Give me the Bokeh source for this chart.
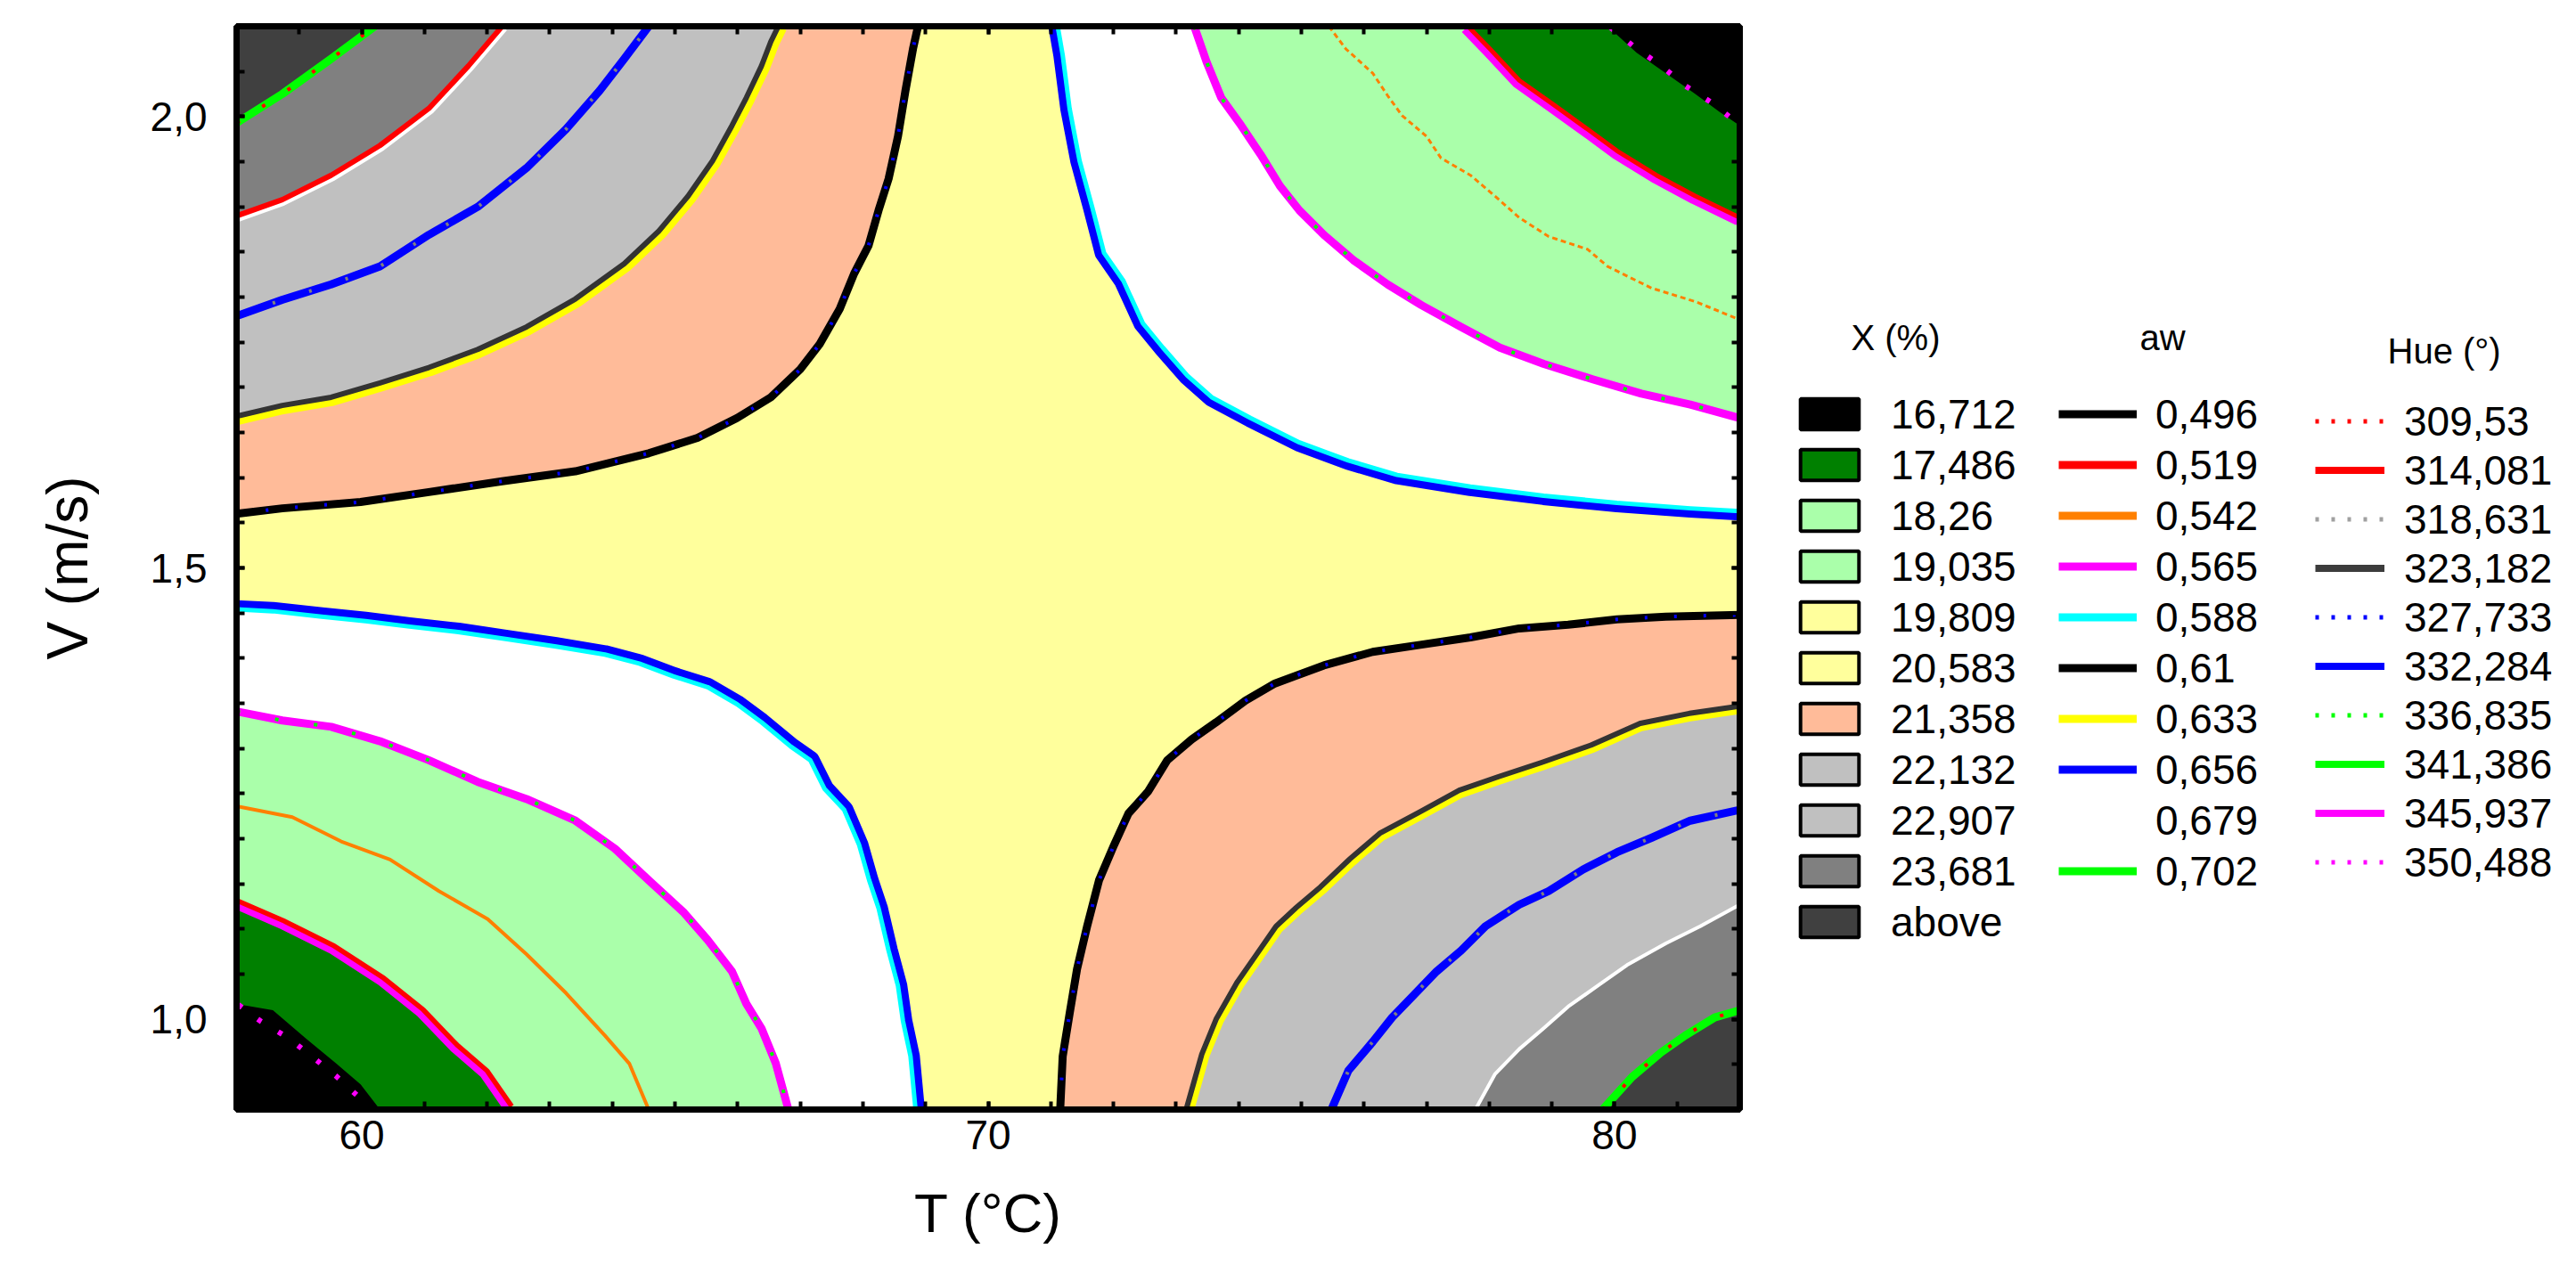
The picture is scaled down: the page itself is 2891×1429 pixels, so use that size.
from bokeh.plotting import figure
from bokeh.layouts import row
from bokeh.models import (Range1d, FixedTicker, LinearAxis, Legend, LegendItem, Label,
                          CustomJSTickFormatter)
from bokeh.embed import file_html
from bokeh.resources import INLINE

NAN = float("nan")

# ---------------- axes ----------------
T_MIN, T_MAX = 58.0, 82.0
V_MIN, V_MAX = 0.9, 2.1
T_TICKS = [60, 70, 80]
T_MINOR = [58, 59, 60, 61, 62, 63, 64, 65, 66, 67, 68, 69, 70, 71, 72, 73, 74, 75, 76, 77, 78, 79, 80, 81, 82]
V_TICKS = [1.0, 1.5, 2.0]
V_MINOR = [0.9, 0.95, 1.0, 1.05, 1.1, 1.15, 1.2, 1.25, 1.3, 1.35, 1.4, 1.45, 1.5,
           1.55, 1.6, 1.65, 1.7, 1.75, 1.8, 1.85, 1.9, 1.95, 2.0, 2.05, 2.1]
V_TICK_LABELS = {1.0: "1,0", 1.5: "1,5", 2.0: "2,0"}

# ---------------- legend contents ----------------
X_LEVELS = ["16,712", "17,486", "18,26", "19,035", "19,809", "20,583",
            "21,358", "22,132", "22,907", "23,681", "above"]
X_COLORS = ["#000000", "#008000", "#AAFFAA", "#AAFFAA", "#FFFF9C", "#FFFF9C",
            "#FFBB99", "#C0C0C0", "#C0C0C0", "#808080", "#404040"]
AW_LEVELS = ["0,496", "0,519", "0,542", "0,565", "0,588", "0,61", "0,633", "0,656", "0,679", "0,702"]
AW_COLORS = ["#000000", "#FF0000", "#FF8000", "#FF00FF", "#00FFFF", "#000000",
             "#FFFF00", "#0000FF", "#FFFFFF", "#00FF00"]
HUE_LEVELS = ["309,53", "314,081", "318,631", "323,182", "327,733", "332,284",
              "336,835", "341,386", "345,937", "350,488"]
HUE_COLORS = ["#FF0000", "#FF0000", "#A0A0A0", "#3C3C3C", "#0000FF", "#0000FF",
              "#00FF00", "#00FF00", "#FF00FF", "#FF00FF"]
HUE_DOTTED = [True, False, True, False, True, False, True, False, False, True]

# ---------------- contour boundaries ----------------
# top-left quadrant (left edge -> top edge)
TL_B1_T = [58.0, 58.73, 59.98, 61.07, 62.24, 63.41, 64.58, 65.36, 65.99, 66.53, 67.00,
           67.31, 67.63, 67.86, 68.09, 68.25, 68.41, 68.56, 68.68, 68.80, 68.88]
TL_B1_V = [1.560, 1.566, 1.573, 1.584, 1.596, 1.607, 1.627, 1.644, 1.666, 1.689, 1.720,
           1.748, 1.787, 1.826, 1.857, 1.896, 1.931, 1.978, 2.029, 2.075, 2.1]
TL_B2_T = [58.0, 58.73, 59.51, 60.29, 61.07, 61.85, 62.63, 63.41, 64.19, 64.74, 65.21,
           65.60, 65.91, 66.14, 66.38, 66.53, 66.65]
TL_B2_V = [1.668, 1.680, 1.689, 1.705, 1.722, 1.742, 1.767, 1.798, 1.837, 1.873, 1.912,
           1.951, 1.990, 2.021, 2.056, 2.083, 2.1]
TL_B3_T = [58.0, 58.73, 59.51, 60.29, 61.07, 61.85, 62.63, 63.26, 63.80, 64.19, 64.58]
TL_B3_V = [1.779, 1.797, 1.814, 1.834, 1.869, 1.900, 1.943, 1.986, 2.029, 2.064, 2.1]
TL_B4_T = [58.0, 58.73, 59.51, 60.29, 61.07, 61.70, 62.24]
TL_B4_V = [1.890, 1.908, 1.935, 1.968, 2.009, 2.056, 2.1]
TL_B5_T = [58.0, 58.73, 59.51, 60.21]
TL_B5_V = [1.993, 2.025, 2.064, 2.1]

# top-right quadrant (top edge -> right edge)
TR_C1_T = [71.11, 71.19, 71.30, 71.46, 71.66, 71.85, 72.16, 72.47, 72.79, 73.18, 73.57,
           74.19, 74.97, 75.75, 76.53, 77.70, 78.87, 80.04, 81.21, 82.0]
TR_C1_V = [2.1, 2.068, 2.009, 1.951, 1.900, 1.849, 1.818, 1.771, 1.744, 1.713, 1.689,
           1.666, 1.639, 1.619, 1.603, 1.590, 1.580, 1.572, 1.566, 1.563]
TR_C2_T = [73.29, 73.49, 73.72, 74.04, 74.35, 74.66, 74.97, 75.36, 75.83, 76.38, 76.92,
           77.55, 78.17, 78.87, 79.65, 80.43, 81.21, 82.0]
TR_C2_V = [2.1, 2.060, 2.021, 1.990, 1.958, 1.923, 1.896, 1.869, 1.841, 1.814, 1.791,
           1.767, 1.744, 1.726, 1.709, 1.693, 1.681, 1.666]
TR_C3_T = [75.44, 75.71, 76.14, 76.38, 76.61, 77.00, 77.23, 77.70, 78.09, 78.48, 78.95,
           79.57, 79.89, 80.59, 81.29, 82.0]
TR_C3_V = [2.1, 2.075, 2.048, 2.023, 2.001, 1.978, 1.954, 1.935, 1.912, 1.888, 1.867,
           1.853, 1.834, 1.810, 1.795, 1.775]
TR_C4_T = [77.66, 78.01, 78.48, 79.03, 79.57, 80.04, 80.67, 81.29, 82.0]
TR_C4_V = [2.1, 2.075, 2.040, 2.013, 1.986, 1.962, 1.935, 1.912, 1.888]
TR_C5_T = [79.89, 80.35, 80.82, 81.29, 81.68, 82.0]
TR_C5_V = [2.1, 2.071, 2.048, 2.025, 2.005, 1.990]
TR_H350_T = [79.93, 80.32, 80.75, 81.13, 81.56, 81.92]
TR_H350_V = [2.099, 2.077, 2.056, 2.034, 2.015, 1.995]

# bottom-left quadrant (left edge -> bottom edge)
BL_D1_T = [58.0, 58.58, 59.36, 60.06, 60.76, 61.54, 62.32, 63.10, 63.88, 64.43, 64.97,
           65.52, 65.99, 66.38, 66.85, 67.16, 67.39, 67.70, 67.94, 68.10, 68.25, 68.41,
           68.56, 68.64, 68.76, 68.84]
BL_D1_V = [1.454, 1.452, 1.446, 1.441, 1.435, 1.429, 1.421, 1.413, 1.404, 1.394, 1.380,
           1.368, 1.349, 1.329, 1.302, 1.287, 1.255, 1.232, 1.193, 1.154, 1.123, 1.076,
           1.037, 0.998, 0.959, 0.9]
BL_D2_T = [58.0, 58.73, 59.51, 60.29, 61.07, 61.85, 62.63, 63.41, 64.04, 64.58, 65.13,
           65.52, 65.91, 66.14, 66.38, 66.61, 66.81]
BL_D2_V = [1.341, 1.331, 1.324, 1.308, 1.287, 1.263, 1.244, 1.220, 1.189, 1.154, 1.119,
           1.088, 1.053, 1.017, 0.990, 0.951, 0.9]
BL_D3_T = [58.0, 58.89, 59.67, 60.45, 61.23, 62.01, 62.63, 63.26, 63.88, 64.27, 64.58]
BL_D3_V = [1.236, 1.224, 1.197, 1.177, 1.142, 1.111, 1.072, 1.029, 0.982, 0.951, 0.9]
BL_D4_T = [58.0, 58.73, 59.51, 60.29, 60.92, 61.46, 61.93, 62.32]
BL_D4_V = [1.125, 1.103, 1.076, 1.041, 1.006, 0.967, 0.939, 0.9]
BL_D5_T = [58.0, 58.58, 59.12, 59.59, 59.98, 60.29]
BL_D5_V = [1.017, 1.010, 0.978, 0.951, 0.928, 0.9]
BL_H350_T = [58.03, 58.38, 58.81, 59.20, 59.59, 59.98]
BL_H350_V = [1.016, 0.998, 0.980, 0.959, 0.937, 0.912]

# bottom-right quadrant (bottom edge -> right edge)
BR_E1_T = [71.15, 71.19, 71.30, 71.42, 71.58, 71.77, 72.01, 72.24, 72.55, 72.86, 73.25,
           73.64, 74.11, 74.58, 75.36, 76.14, 76.92, 77.70, 78.48, 79.26, 80.04, 80.82, 82.0]
BR_E1_V = [0.9, 0.959, 1.006, 1.056, 1.103, 1.154, 1.193, 1.228, 1.252, 1.287, 1.310,
           1.329, 1.353, 1.372, 1.392, 1.407, 1.415, 1.423, 1.433, 1.437, 1.443, 1.446, 1.448]
BR_E2_T = [73.25, 73.49, 73.72, 74.04, 74.35, 74.66, 74.97, 75.36, 75.83, 76.30, 76.92,
           77.55, 78.17, 78.87, 79.65, 80.43, 81.21, 82.0]
BR_E2_V = [0.9, 0.959, 0.998, 1.037, 1.068, 1.099, 1.119, 1.142, 1.173, 1.201, 1.224,
           1.248, 1.263, 1.279, 1.298, 1.322, 1.333, 1.341]
BR_E3_T = [75.48, 75.75, 76.14, 76.45, 76.77, 77.16, 77.55, 77.94, 78.48, 78.95, 79.50,
           80.04, 80.59, 81.21, 82.0]
BR_E3_V = [0.9, 0.943, 0.975, 1.002, 1.025, 1.053, 1.076, 1.103, 1.127, 1.142, 1.166,
           1.185, 1.201, 1.220, 1.232]
BR_E4_T = [77.78, 78.09, 78.48, 78.87, 79.26, 79.73, 80.20, 80.82, 81.37, 82.0]
BR_E4_V = [0.9, 0.939, 0.967, 0.990, 1.014, 1.037, 1.060, 1.084, 1.103, 1.127]
BR_E5_T = [79.81, 80.28, 80.74, 81.13, 81.60, 82.0]
BR_E5_V = [0.9, 0.936, 0.963, 0.982, 1.002, 1.010]

# ---------------- colours / fonts ----------------
YELLOW = "#FFFF9C"
SALMON = "#FFBB99"
LGREY = "#C0C0C0"
GREY = "#808080"
DGREY = "#404040"
LGREEN = "#AAFFAA"
DGREEN = "#008000"
BLACK = "#000000"
WHITE = "#FFFFFF"
FONT = "Liberation Sans"

p = figure(width=1972, height=1413, output_backend="svg", toolbar_location=None,
           x_range=Range1d(T_MIN, T_MAX), y_range=Range1d(V_MIN, V_MAX),
           min_border_left=265, min_border_right=20, min_border_top=29, min_border_bottom=168,
           x_axis_location=None, y_axis_location=None)
p.background_fill_color = YELLOW
p.grid.visible = False
p.outline_line_color = BLACK
p.outline_line_width = 7


def region(ts, vs, ct, cv, fill, line=None, lw=0):
    return p.patch(ts + [ct], vs + [cv], fill_color=fill,
                   line_color=line, line_width=lw, line_join="round")


def curve(ts, vs, color, lw, dash="solid"):
    return p.line(ts, vs, line_color=color, line_width=lw, line_dash=dash, line_join="round")


# ---- top-left ----
region(TL_B1_T, TL_B1_V, T_MIN, V_MAX, SALMON)
curve(TL_B2_T, TL_B2_V, "#FFFF00", 20)
region(TL_B2_T, TL_B2_V, T_MIN, V_MAX, LGREY, "#333333", 6)
curve(TL_B4_T, TL_B4_V, WHITE, 14)
region(TL_B4_T, TL_B4_V, T_MIN, V_MAX, GREY, "#FF0000", 6)
region(TL_B5_T, TL_B5_V, T_MIN, V_MAX, DGREY)
curve(TL_B1_T, TL_B1_V, BLACK, 9)
curve(TL_B1_T, TL_B1_V, "#0000FF", 4, "3 30")
curve(TL_B3_T, TL_B3_V, "#0000FF", 9)
curve(TL_B3_T, TL_B3_V, "#808080", 4, "3 40")
curve(TL_B5_T, TL_B5_V, "#00FF00", 9)
curve(TL_B5_T, TL_B5_V, "#FF0000", 4, "4 30")

# ---- top-right ----
curve(TR_C1_T, TR_C1_V, "#0000FF", 21)
region(TR_C1_T, TR_C1_V, T_MAX, V_MAX, WHITE, "#00FFFF", 5)
region(TR_C2_T, TR_C2_V, T_MAX, V_MAX, LGREEN)
curve(TR_C4_T, TR_C4_V, "#FF00FF", 19)
region(TR_C4_T, TR_C4_V, T_MAX, V_MAX, DGREEN, "#FF0000", 5)
region(TR_C5_T, TR_C5_V, T_MAX, V_MAX, BLACK)
curve(TR_C2_T, TR_C2_V, "#FF00FF", 9)
curve(TR_C2_T, TR_C2_V, "#00FF00", 4, "4 40")
curve(TR_C3_T, TR_C3_V, "#FF8000", 3, "6 4")
curve(TR_H350_T, TR_H350_V, "#FF00FF", 6, "5 22")

# ---- bottom-left ----
curve(BL_D1_T, BL_D1_V, "#0000FF", 21)
region(BL_D1_T, BL_D1_V, T_MIN, V_MIN, WHITE, "#00FFFF", 5)
region(BL_D2_T, BL_D2_V, T_MIN, V_MIN, LGREEN)
curve(BL_D4_T, BL_D4_V, "#FF0000", 18)
region(BL_D4_T, BL_D4_V, T_MIN, V_MIN, DGREEN, "#FF00FF", 7)
region(BL_D5_T, BL_D5_V, T_MIN, V_MIN, BLACK)
curve(BL_D2_T, BL_D2_V, "#FF00FF", 9)
curve(BL_D2_T, BL_D2_V, "#00FF00", 4, "4 40")
curve(BL_D3_T, BL_D3_V, "#FF8000", 4)
curve(BL_H350_T, BL_H350_V, "#FF00FF", 6, "5 22")

# ---- bottom-right ----
region(BR_E1_T, BR_E1_V, T_MAX, V_MIN, SALMON)
curve(BR_E2_T, BR_E2_V, "#333333", 18)
region(BR_E2_T, BR_E2_V, T_MAX, V_MIN, LGREY, "#FFFF00", 6)
region(BR_E4_T, BR_E4_V, T_MAX, V_MIN, GREY, WHITE, 4)
region(BR_E5_T, BR_E5_V, T_MAX, V_MIN, DGREY)
curve(BR_E1_T, BR_E1_V, BLACK, 9)
curve(BR_E1_T, BR_E1_V, "#0000FF", 4, "3 30")
curve(BR_E3_T, BR_E3_V, "#0000FF", 9)
curve(BR_E3_T, BR_E3_V, "#808080", 4, "3 40")
curve(BR_E5_T, BR_E5_V, "#00FF00", 9)
curve(BR_E5_T, BR_E5_V, "#FF0000", 4, "4 30")

# ---------------- axes ----------------
EMPTY = CustomJSTickFormatter(code="return ''")


def style_axis(ax, show_labels):
    ax.axis_line_color = BLACK
    ax.axis_line_width = 7
    ax.major_tick_in = 9
    ax.major_tick_out = 0
    ax.minor_tick_in = 9
    ax.minor_tick_out = 0
    ax.major_tick_line_width = 4
    ax.minor_tick_line_width = 4
    ax.major_tick_line_color = BLACK
    ax.minor_tick_line_color = BLACK
    ax.major_label_text_font = FONT
    ax.major_label_text_color = BLACK
    ax.major_label_text_font_size = "46px"
    if not show_labels:
        ax.formatter = EMPTY
        ax.major_label_standoff = 0


xt = FixedTicker(ticks=T_TICKS, minor_ticks=T_MINOR)
yt = FixedTicker(ticks=V_TICKS, minor_ticks=V_MINOR)

xb = LinearAxis(ticker=xt, axis_label="T (°C)")
style_axis(xb, True)
xb.major_label_standoff = 12
xb.axis_label_standoff = 34
xb.axis_label_text_font = FONT
xb.axis_label_text_font_style = "normal"
xb.axis_label_text_font_size = "62px"
xb.axis_label_text_color = BLACK
p.add_layout(xb, "below")

yl = LinearAxis(ticker=yt, axis_label="V (m/s)")
style_axis(yl, True)
yl.major_label_overrides = V_TICK_LABELS
yl.major_label_standoff = 33
yl.axis_label_standoff = 54
yl.axis_label_text_font = FONT
yl.axis_label_text_font_style = "normal"
yl.axis_label_text_font_size = "64px"
yl.axis_label_text_color = BLACK
p.add_layout(yl, "left")

xa = LinearAxis(ticker=xt)
style_axis(xa, False)
p.add_layout(xa, "above")
yr = LinearAxis(ticker=yt)
style_axis(yr, False)
p.add_layout(yr, "right")

# ---------------- legend panel (second figure, frame aligned with the plot) ----------------
q = figure(width=903, height=1413, output_backend="svg", toolbar_location=None,
           x_range=Range1d(0, 1), y_range=Range1d(0, 1), min_border=0,
           x_axis_location=None, y_axis_location=None)
q.grid.visible = False
q.outline_line_color = None

# legend proxies: one undrawn (NaN) point each, so the legend can show its key
x_items = []
for lab, col in zip(X_LEVELS, X_COLORS):
    r = q.patch(x=[NAN], y=[NAN], fill_color=col, line_color=BLACK, line_width=4)
    x_items.append(LegendItem(label=lab, renderers=[r]))
aw_items = []
for lab, col in zip(AW_LEVELS, AW_COLORS):
    r = q.line(x=[NAN], y=[NAN], line_color=col, line_width=9)
    aw_items.append(LegendItem(label=lab, renderers=[r]))
hue_items = []
for lab, col, dot in zip(HUE_LEVELS, HUE_COLORS, HUE_DOTTED):
    if dot:
        r = q.line(x=[NAN], y=[NAN], line_color=col, line_width=5, line_dash="4 14")
    else:
        r = q.line(x=[NAN], y=[NAN], line_color=col, line_width=8)
    hue_items.append(LegendItem(label=lab, renderers=[r]))


def make_legend(items, loc, gw, standoff, row_h):
    lg = Legend(items=items, location=loc, orientation="vertical",
                glyph_width=gw, glyph_height=43, label_standoff=standoff,
                spacing=0, padding=0, margin=0, border_line_color=None,
                background_fill_alpha=0, label_text_font=FONT,
                label_text_font_size="46px", label_text_color=BLACK,
                label_height=row_h)
    q.add_layout(lg)
    return lg


make_legend(x_items, (40, 182), 82, 28, 57)
make_legend(aw_items, (338, 239), 88, 21, 57)
make_legend(hue_items, (626, 250), 78, 22, 55)

for txt, sx, sy in [("X (%)", 105, 867), ("aw", 429, 867), ("Hue (°)", 707, 852)]:
    q.add_layout(Label(x=sx, y=sy, x_units="screen", y_units="screen", text=txt,
                       text_font=FONT, text_font_size="40px", text_baseline="middle",
                       text_color=BLACK))

layout = row(p, q, spacing=0)
open("out.html", "w").write(file_html(layout, INLINE))
